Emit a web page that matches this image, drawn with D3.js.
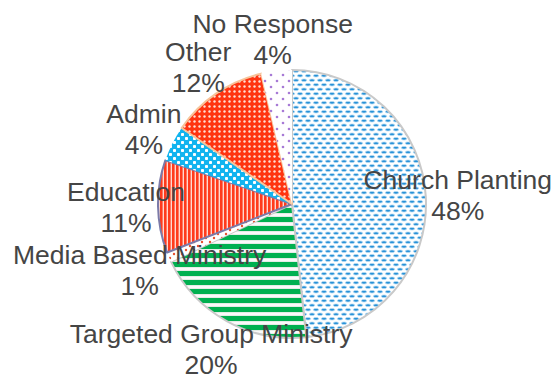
<!DOCTYPE html>
<html>
<head>
<meta charset="utf-8">
<script src="https://cdn.jsdelivr.net/npm/d3@7"></script>
<style>
  body { margin: 0; background: #fff; }
  svg text { font-family: "Liberation Sans", Arial, sans-serif; fill: #454545; }
</style>
</head>
<body>
<div id="chart"></div>
<script>
const categories = ['Church Planting', 'Targeted Group Ministry', 'Media Based Ministry',
  'Education', 'Admin', 'Other', 'No Response']
const values = [48.3, 19.6, 1.2, 11.2, 4.3, 11.7, 3.7]

const width = 555, height = 374
const cx = 292, cy = 204, radius = 134, labelRadius = 166

const svg = d3.select('#chart').append('svg')
  .attr('width', width)
  .attr('height', height)

const defs = svg.append('defs')

// church planting: staggered blue dashes
let p = defs.append('pattern').attr('id', 'pat0').attr('patternUnits', 'userSpaceOnUse')
  .attr('width', 8).attr('height', 9)
p.append('rect').attr('width', 8).attr('height', 9).attr('fill', '#fff')
;[[4, 2.25], [0, 6.75], [8, 6.75]].forEach(function(c) {
  p.append('ellipse').attr('cx', c[0]).attr('cy', c[1]).attr('rx', 2.7).attr('ry', 1.3)
    .attr('fill', '#2590d6').attr('stroke', '#b4dbf4').attr('stroke-width', 0.7)
})

// targeted group: green horizontal stripes
p = defs.append('pattern').attr('id', 'pat1').attr('patternUnits', 'userSpaceOnUse')
  .attr('width', 8).attr('height', 9)
p.append('rect').attr('width', 8).attr('height', 9).attr('fill', '#e4ece6')
p.append('rect').attr('y', 1).attr('width', 8).attr('height', 2).attr('fill', '#fafafa')
p.append('rect').attr('y', 4).attr('width', 8).attr('height', 5).attr('fill', '#00b050')

// media based: sparse red dots
p = defs.append('pattern').attr('id', 'pat2').attr('patternUnits', 'userSpaceOnUse')
  .attr('width', 8).attr('height', 8)
p.append('rect').attr('width', 8).attr('height', 8).attr('fill', '#fff')
p.append('circle').attr('cx', 2).attr('cy', 2).attr('r', 1.2).attr('fill', '#e8502f')
p.append('circle').attr('cx', 6).attr('cy', 6).attr('r', 1.2).attr('fill', '#e8502f')

// education: red vertical stripes
p = defs.append('pattern').attr('id', 'pat3').attr('patternUnits', 'userSpaceOnUse')
  .attr('width', 4).attr('height', 4)
p.append('rect').attr('width', 4).attr('height', 4).attr('fill', '#ffd8cf')
p.append('rect').attr('width', 2.6).attr('height', 4).attr('fill', '#ff3b1c')

// admin: cyan with white squares
p = defs.append('pattern').attr('id', 'pat4').attr('patternUnits', 'userSpaceOnUse')
  .attr('width', 8).attr('height', 8)
p.append('rect').attr('width', 8).attr('height', 8).attr('fill', '#12b4ef')
p.append('rect').attr('x', 1).attr('y', 1).attr('width', 3).attr('height', 3).attr('rx', 0.8).attr('fill', '#fff')
p.append('rect').attr('x', 5).attr('y', 5).attr('width', 3).attr('height', 3).attr('rx', 0.8).attr('fill', '#fff')

// other: red with white dots
p = defs.append('pattern').attr('id', 'pat5').attr('patternUnits', 'userSpaceOnUse')
  .attr('width', 5).attr('height', 5)
p.append('rect').attr('width', 5).attr('height', 5).attr('fill', '#ff3410')
p.append('circle').attr('cx', 2.5).attr('cy', 2.5).attr('r', 1.2).attr('fill', '#ffe0d6')

// no response: sparse purple dots
p = defs.append('pattern').attr('id', 'pat6').attr('patternUnits', 'userSpaceOnUse')
  .attr('width', 12).attr('height', 12)
p.append('rect').attr('width', 12).attr('height', 12).attr('fill', '#fff')
p.append('circle').attr('cx', 3).attr('cy', 3).attr('r', 1.3).attr('fill', '#a77ad6')
p.append('circle').attr('cx', 9).attr('cy', 9).attr('r', 1.3).attr('fill', '#a77ad6')

const strokes = ['#c9c9c9', '#c9c9c9', 'none', '#7b7aa8', 'none', '#f7c49a', 'none']

const pie = d3.pie().sort(null).value(d => d)
const arcs = pie(values)
const arc = d3.arc().innerRadius(0).outerRadius(radius)

const g = svg.append('g').attr('transform', 'translate(' + cx + ',' + cy + ')')

g.selectAll('path')
  .data(arcs)
  .join('path')
  .attr('d', arc)
  .attr('fill', (d, i) => 'url(#pat' + i + ')')
  .attr('stroke', (d, i) => strokes[i])
  .attr('stroke-width', 2)
  .attr('stroke-linejoin', 'round')

// labels along the mid angle of each slice
const labels = g.selectAll('text.lbl')
  .data(arcs)
  .join('text')
  .attr('class', 'lbl')
  .attr('text-anchor', 'middle')
  .style('font-size', '26.5px')
  .attr('transform', function(d) {
    const a = (d.startAngle + d.endAngle) / 2
    return 'translate(' + (Math.sin(a) * labelRadius) + ',' + (-Math.cos(a) * labelRadius) + ')'
  })

labels.append('tspan').attr('x', 0).attr('y', -6).text((d, i) => categories[i])
labels.append('tspan').attr('x', 0).attr('y', 25).text(d => Math.round(d.value) + '%')
</script>
</body>
</html>
